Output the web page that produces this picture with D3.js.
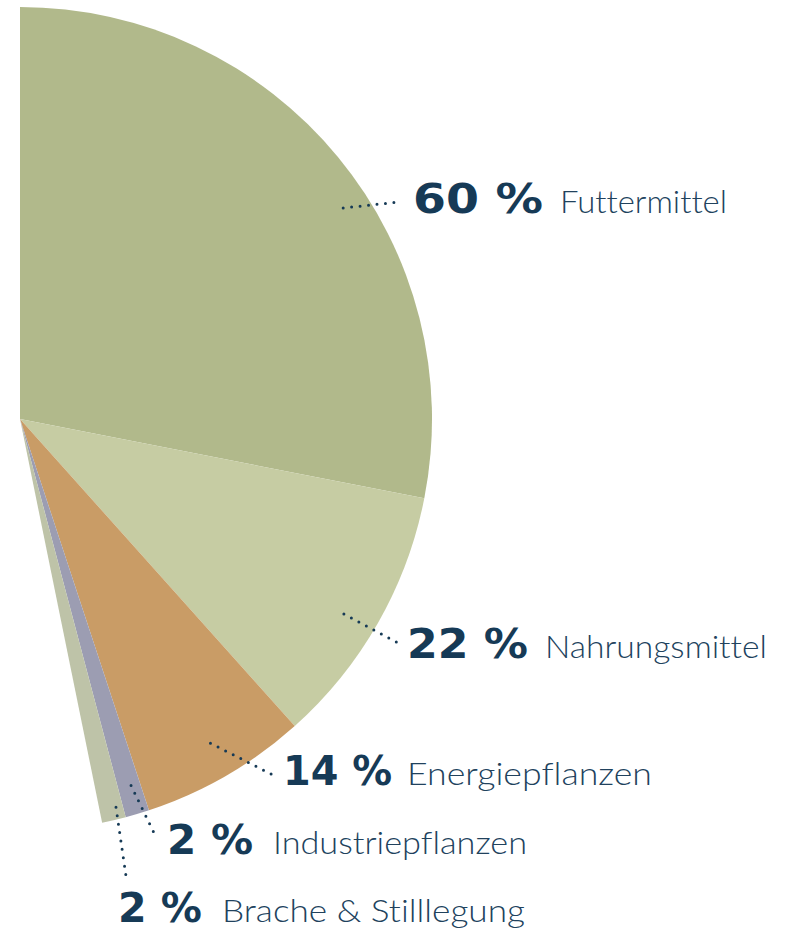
<!DOCTYPE html>
<html>
<head>
<meta charset="utf-8">
<script src="https://cdn.jsdelivr.net/npm/d3@7"></script>
<style>
  body { margin: 0; background: #fff; }
  svg { display: block; }
</style>
</head>
<body>
<div id="chart"></div>
<script>
// Data
const categories = ["Futtermittel", "Nahrungsmittel", "Energiepflanzen", "Industriepflanzen", "Brache & Stilllegung"];
const shares = [60, 22, 14, 2, 2];
const sliceColors = ["#b1b98b", "#c6cca3", "#c99c66", "#9c9db2", "#bec3a8"];

// Label layout (annotation placement)
const numX = [413, 407, 283, 167, 118];
const baseY = [213, 658, 785, 854, 922];
const numW = [130, 121, 109, 86, 84];
const nameX = [560, 545, 407, 273, 222];
const nameW = [167, 222, 245, 254, 303];
const leaderEnd = [[-14, -11], [-9, -15], [-10, -10], [-11, -17], [9, -39]]; // relative to number start
const leaderTurn = [6.3, 1.4, -0.4, -0.3, -0.7]; // degrees off slice middle
const leaderR = [386, 378, 376, 383, 400];

const width = 785;
const height = 932;
const cx = 20, cy = 419, radius = 412;
const totalAngle = 168.5 * Math.PI / 180;
const navy = "#163a56";

const svg = d3.select("#chart")
  .append("svg")
  .attr("width", width)
  .attr("height", height)
  .attr("viewBox", `0 0 ${width} ${height}`);

const data = categories.map((c, i) => ({ name: c, value: shares[i], i }));

const pie = d3.pie()
  .sort(null)
  .value(d => d.value)
  .startAngle(0)
  .endAngle(totalAngle);

const arc = d3.arc()
  .innerRadius(0)
  .outerRadius(radius);

const arcs = pie(data);

const g = svg.append("g")
  .attr("transform", `translate(${cx},${cy})`);

g.selectAll(".slice")
  .data(arcs)
  .enter()
  .append("path")
  .attr("class", "slice")
  .attr("d", arc)
  .attr("fill", d => sliceColors[d.data.i]);

// leader lines (dotted)
arcs.forEach(d => {
  const i = d.data.i;
  const a = (d.startAngle + d.endAngle) / 2 + leaderTurn[i] * Math.PI / 180;
  const x1 = cx + leaderR[i] * Math.sin(a);
  const y1 = cy - leaderR[i] * Math.cos(a);
  const x2 = numX[i] + leaderEnd[i][0];
  const y2 = baseY[i] + leaderEnd[i][1];
  svg.append("line")
    .attr("x1", x1).attr("y1", y1)
    .attr("x2", x2).attr("y2", y2)
    .attr("stroke", navy)
    .attr("stroke-width", 3)
    .attr("stroke-linecap", "round")
    .attr("stroke-dasharray", "0 8.5");
});

// labels
data.forEach(d => {
  const i = d.i;
  svg.append("text")
    .attr("x", numX[i])
    .attr("y", baseY[i])
    .attr("textLength", numW[i])
    .attr("lengthAdjust", "spacingAndGlyphs")
    .style("font-family", "'DejaVu Sans', sans-serif")
    .style("font-weight", "700")
    .style("font-size", "40px")
    .style("fill", navy)
    .text(d.value + " %");

  svg.append("text")
    .attr("x", nameX[i])
    .attr("y", baseY[i])
    .attr("textLength", nameW[i])
    .attr("lengthAdjust", "spacingAndGlyphs")
    .style("font-family", "Lato, 'Open Sans', sans-serif")
    .style("font-weight", "300")
    .style("font-size", "31px")
    .style("font-variant-ligatures", "none")
    .style("fill", "#21425d")
    .text(d.name);
});
</script>
</body>
</html>
